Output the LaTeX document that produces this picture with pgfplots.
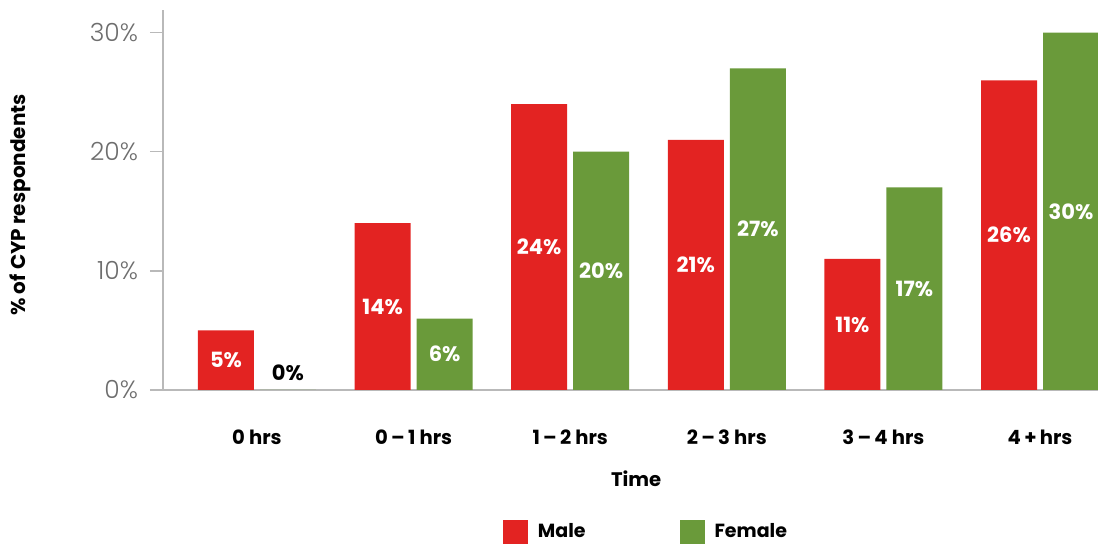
\documentclass[border=0pt]{standalone}
\usepackage{fontspec}
\setmainfont{Poppins}
\newfontfamily\lightfont{Poppins Light}
\usepackage{pgfplots}
\pgfplotsset{compat=1.18}
\definecolor{mred}{RGB}{227,35,34}
\definecolor{mgreen}{RGB}{106,154,58}
\definecolor{axgray}{RGB}{185,185,185}
\definecolor{tickgray}{RGB}{110,110,110}
\begin{document}
\begin{tikzpicture}
\begin{axis}[
  name=ax, at={(0,0)}, anchor=south west,
  scale only axis, width=467.5pt, height=190pt,
  xmin=-0.6, xmax=5.37, ymin=0, ymax=31.9,
  axis x line=bottom, axis y line=left,
  axis line style={axgray, -, line width=0.7pt},
  xtick={0,1,2,3,4,5},
  xticklabels={0 hrs, 0\,--\,1 hrs, 1\,--\,2 hrs, 2\,--\,3 hrs, 3\,--\,4 hrs, 4\,+\,hrs},
  major x tick style={draw=none},
  xticklabel style={font=\bfseries\fontsize{9.8}{11}\selectfont, anchor=center, yshift=-17pt},
  ytick={0,10,20,30}, yticklabels={0\%,10\%,20\%,30\%},
  tick align=outside, major tick length=6.5pt,
  y tick style={axgray, line width=0.7pt},
  yticklabel style={font=\lightfont\fontsize{12.5}{14}\selectfont, text=tickgray, anchor=east, xshift=-2.5pt},
  xlabel={Time},
  xlabel style={at={(axis description cs:0.506,-0.234)}, anchor=center, font=\bfseries\fontsize{9.8}{11}\selectfont},
  ylabel={\% of CYP respondents},
  ylabel style={at={(axis description cs:-0.153,0.487)}, anchor=center, rotate=0, font=\bfseries\fontsize{10}{11}\selectfont},
  legend style={at={(axis description cs:0.5176,-0.374)}, anchor=center, draw=none, fill=none,
    legend columns=2, font=\bfseries\fontsize{9.5}{11}\selectfont,
    /tikz/every odd column/.append style={column sep=3pt},
    /tikz/every even column/.append style={column sep=45pt}},
  legend image code/.code={\fill[#1] (0pt,-6.25pt) rectangle (12.5pt,6.25pt);},
  clip=false,
]
\addplot[ybar, bar width=28pt, bar shift=-15.5pt, fill=mred, draw=none]
  coordinates {(0,5) (1,14) (2,24) (3,21) (4,11) (5,26)};
\addlegendentry{Male}
\addplot[ybar, bar width=28pt, bar shift=15.5pt, fill=mgreen, draw=none]
  coordinates {(0,0) (1,6) (2,20) (3,27) (4,17) (5,30)};
\addlegendentry{Female}
% value labels, centred in the bars
\addplot[only marks, mark=none, forget plot,
  point meta=explicit symbolic, nodes near coords,
  every node near coord/.style={anchor=center, xshift=-15.5pt, text=white, font=\bfseries\fontsize{10.5}{12}\selectfont}]
  coordinates {(0,2.5)[5\%] (1,7)[14\%] (2,12)[24\%] (3,10.5)[21\%] (4,5.5)[11\%] (5,13)[26\%]};
\addplot[only marks, mark=none, forget plot,
  point meta=explicit symbolic, nodes near coords,
  every node near coord/.style={anchor=center, xshift=15.5pt, text=white, font=\bfseries\fontsize{10.5}{12}\selectfont}]
  coordinates {(1,3)[6\%] (2,10)[20\%] (3,13.5)[27\%] (4,8.5)[17\%] (5,15)[30\%]};
\addplot[only marks, mark=none, forget plot,
  point meta=explicit symbolic, nodes near coords,
  every node near coord/.style={anchor=center, xshift=15.5pt, text=black, font=\bfseries\fontsize{10.5}{12}\selectfont}]
  coordinates {(0,1.43)[0\%]};
\end{axis}
\pgfresetboundingbox
\path[use as bounding box] (-81.5pt,-77pt) rectangle (467.5pt,195pt);
\end{tikzpicture}
\end{document}
